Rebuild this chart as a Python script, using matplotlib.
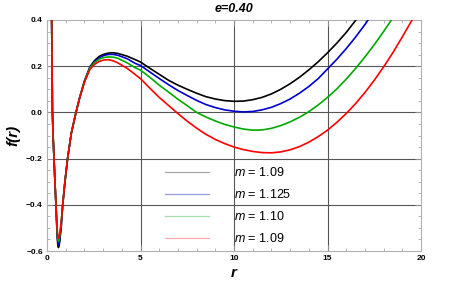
import matplotlib
matplotlib.use("Agg")
import matplotlib.pyplot as plt
from matplotlib.lines import Line2D
from matplotlib.ticker import MultipleLocator

plt.rcParams['font.family'] = ['Liberation Sans', 'DejaVu Sans']
plt.rcParams['mathtext.fontset'] = 'custom'
plt.rcParams['mathtext.it'] = 'Liberation Sans:italic'
plt.rcParams['mathtext.rm'] = 'Liberation Sans'

# values
r = [0.22, 0.25, 0.27, 0.29, 0.33, 0.375, 0.43, 0.48, 0.54, 0.58, 0.61, 0.64,
     0.68, 0.76, 0.84, 0.96, 1.10, 1.30, 1.55, 1.75, 2.0, 2.3, 2.55, 2.8,
     3.05, 3.3, 3.55, 3.8, 4.3, 4.7, 5.0, 5.5, 6.0, 6.5, 7.0, 7.5, 8.0, 8.5,
     9.0, 9.5, 10.0, 10.5, 11.0, 11.5, 12.0, 12.5, 13.0, 13.5, 14.0, 14.5,
     15.0, 15.5, 16.0, 16.5, 17.0, 17.5, 18.0, 18.5, 19.0, 19.5, 20.0]

f_black = [1.0, 0.40, 0.20, 0.0, -0.11, -0.20, -0.31, -0.40, -0.531, -0.575, -0.585, -0.58,
           -0.56, -0.495, -0.40, -0.30, -0.20, -0.09, 0.0, 0.065, 0.135, 0.198, 0.225, 0.243,
           0.252, 0.257, 0.258, 0.255, 0.243, 0.229, 0.218, 0.191, 0.165, 0.139, 0.118, 0.100, 0.083, 0.068,
           0.058, 0.051, 0.048, 0.049, 0.055, 0.065, 0.080, 0.100, 0.124, 0.152, 0.184, 0.219,
           0.258, 0.300, 0.346, 0.398, 0.450, 0.51, 0.57, 0.63, 0.70, 0.77, 0.84]

f_blue = [1.0, 0.40, 0.20, 0.0, -0.11, -0.20, -0.31, -0.40, -0.522, -0.563, -0.572, -0.567,
          -0.549, -0.488, -0.40, -0.30, -0.20, -0.09, 0.0, 0.065, 0.134, 0.196, 0.220, 0.237,
          0.247, 0.251, 0.251, 0.247, 0.232, 0.213, 0.203, 0.175, 0.147, 0.120, 0.095, 0.073, 0.052, 0.034,
          0.021, 0.011, 0.005, 0.002, 0.004, 0.011, 0.022, 0.038, 0.058, 0.083, 0.112, 0.146,
          0.188, 0.230, 0.276, 0.326, 0.380, 0.44, 0.50, 0.56, 0.63, 0.70, 0.77]

f_green = [1.0, 0.40, 0.20, 0.0, -0.11, -0.20, -0.31, -0.40, -0.512, -0.549, -0.558, -0.554,
           -0.537, -0.481, -0.40, -0.30, -0.20, -0.09, 0.0, 0.064, 0.133, 0.193, 0.216, 0.231,
           0.238, 0.240, 0.239, 0.234, 0.214, 0.194, 0.183, 0.152, 0.118, 0.088, 0.057, 0.029, 0.0, -0.020,
           -0.037, -0.052, -0.063, -0.072, -0.077, -0.076, -0.069, -0.057, -0.041, -0.021, 0.003, 0.032,
           0.065, 0.102, 0.144, 0.190, 0.240, 0.293, 0.350, 0.410, 0.47, 0.54, 0.61]

f_red = [1.0, 0.40, 0.20, 0.0, -0.11, -0.20, -0.31, -0.40, -0.503, -0.537, -0.545, -0.541,
         -0.525, -0.475, -0.40, -0.30, -0.20, -0.09, 0.0, 0.063, 0.130, 0.187, 0.208, 0.221,
         0.227, 0.228, 0.223, 0.214, 0.190, 0.165, 0.146, 0.105, 0.065, 0.030, -0.005, -0.038, -0.068, -0.095,
         -0.117, -0.135, -0.150, -0.161, -0.169, -0.174, -0.175, -0.171, -0.162, -0.148, -0.129, -0.105,
         -0.077, -0.043, -0.005, 0.038, 0.086, 0.139, 0.197, 0.259, 0.327, 0.397, 0.470]

labels = ['$m$ = 1.09', '$m$ = 1.125', '$m$ = 1.10', '$m$ = 1.09']
colors = ['#000000', '#0000cc', '#00aa00', '#ff0000']
legend_colors = ['#a8a8a8', '#9a9ae0', '#a8dca8', '#ffaaaa']

fig = plt.figure(figsize=(4.57, 2.86), dpi=100)
ax = fig.add_axes([47 / 457, 35 / 286, 374 / 457, 231 / 286])

for f, c in zip([f_black, f_blue, f_green, f_red], colors):
    ax.plot(r, f, color=c, lw=1.2, zorder=3)

ax.set_xlim(0, 20)
ax.set_ylim(-0.6, 0.4)
ax.xaxis.set_major_locator(MultipleLocator(5))
ax.xaxis.set_minor_locator(MultipleLocator(1))
ax.yaxis.set_major_locator(MultipleLocator(0.2))
ax.yaxis.set_minor_locator(MultipleLocator(0.05))
ax.tick_params(which='both', direction='in', top=True, right=True, colors='#999999',
               labelcolor='black', labelsize=6, pad=3)
ax.tick_params(which='major', length=4, width=0.6)
ax.tick_params(which='minor', length=2, width=0.5)
for lab in ax.get_xticklabels() + ax.get_yticklabels():
    lab.set_fontweight('bold')
ax.yaxis.set_major_formatter(plt.FuncFormatter(lambda v, p: ('%.1f' % v).replace('-', '\u2212')))

for s in ax.spines.values():
    s.set_color('#b0b0b0')
    s.set_linewidth(0.8)

for xv in [5, 10, 15]:
    ax.axvline(xv, color='#555555', lw=0.8, zorder=1)
for yv in [0.2, 0.0, -0.2, -0.4]:
    ax.axhline(yv, color='#555555', lw=0.8, zorder=1)

ax.set_title('e=0.40', fontsize=9, fontweight='bold', style='italic', pad=6)
ax.set_xlabel('r', fontsize=11, fontweight='bold', style='italic', labelpad=3)
ax.set_ylabel('f(r)', fontsize=11, fontweight='bold', style='italic', labelpad=4)

handles = [Line2D([0], [0], color=c, lw=0.9) for c in legend_colors]
ax.legend(handles, labels, loc='upper left', bbox_to_anchor=(0.3155, 0.367),
          frameon=False, borderpad=0, borderaxespad=0, handlelength=3.5,
          handletextpad=2.0, labelspacing=0.72, fontsize=9)

fig.savefig('out.png', dpi=100)
